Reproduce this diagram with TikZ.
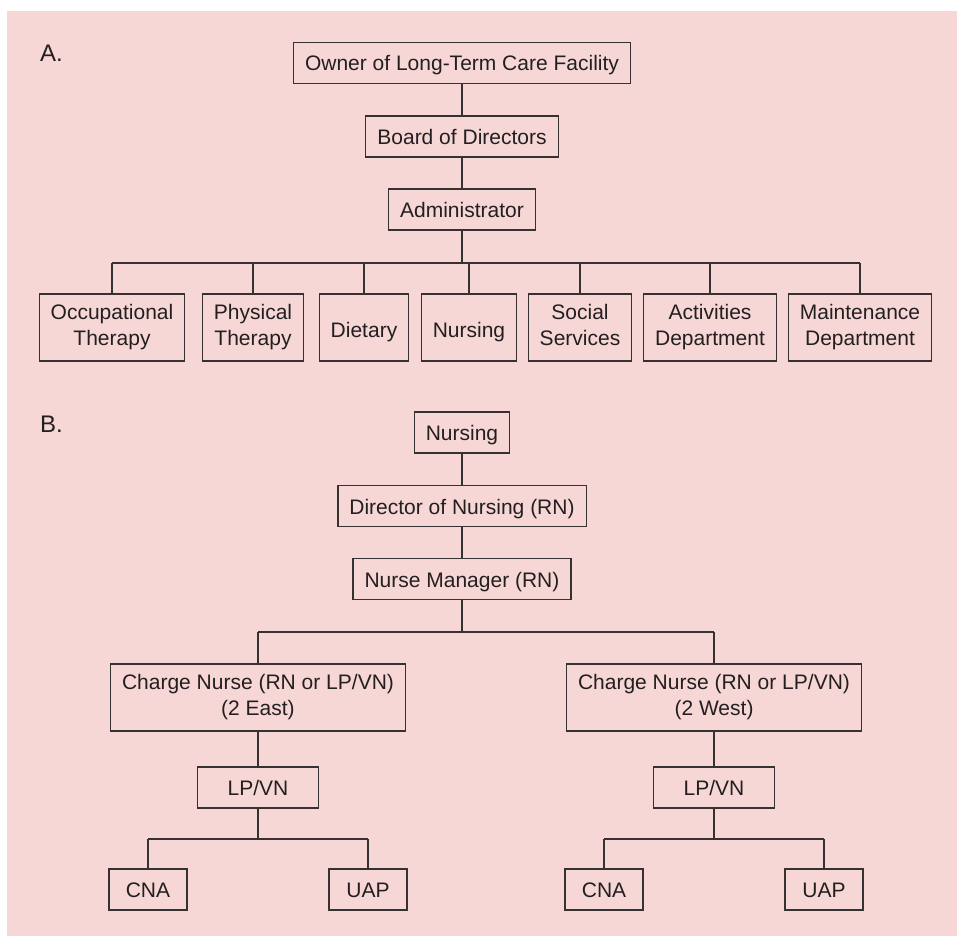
\documentclass[tikz,border=0pt]{standalone}
\usepackage{fontspec}
\setmainfont{Liberation Sans}
\usetikzlibrary{positioning}
\definecolor{chartpink}{RGB}{246,215,214}
\definecolor{chartgray}{RGB}{55,50,50}
\definecolor{charttext}{RGB}{35,31,32}
\newcommand{\boxstrut}{\rule[-4.5pt]{0pt}{29pt}}

\begin{document}
\begin{tikzpicture}[
	x=1pt, y=-1pt,
	texts/.style = {text=charttext, font=\fontsize{21}{26}\selectfont},
	parttexts/.style = {text=charttext, font=\fontsize{24}{28}\selectfont, anchor=base west, inner sep=0pt},
	treeline/.style = {draw=chartgray, line width=1.2pt},
	onebox/.style = {texts, treeline, rectangle, inner xsep=11.5pt, inner ysep=0pt, minimum height=41pt, text height=19pt, text depth=3pt},
	twobox/.style = {texts, treeline, rectangle, align=center, inner xsep=11.5pt, inner ysep=0pt, minimum height=67pt,
		execute at begin node=\boxstrut, execute at end node=\boxstrut},
	smallbox/.style = {onebox, minimum width=78pt},
	lpbox/.style = {onebox, minimum width=121pt}
]
	\useasboundingbox (0,0) rectangle (957,936);
	\fill[chartpink] (7,11) rectangle (957,936);

	% A. facility
	\node[parttexts] (parta) at (40,62) {A.};
	\node[onebox] (owner) at (462,63) {Owner of Long-Term Care Facility};
	\node[onebox] (board) at (462,136.5) {Board of Directors};
	\node[onebox] (admin) at (462,209.5) {Administrator};
	\node[twobox] (occ) at (112,327.5) {Occupational\\Therapy};
	\node[twobox] (phys) at (253,327.5) {Physical\\Therapy};
	\node[twobox] (diet) at (364,327.5) {Dietary};
	\node[twobox] (nurse) at (469,327.5) {Nursing};
	\node[twobox] (social) at (580,327.5) {Social\\Services};
	\node[twobox] (activ) at (710,327.5) {Activities\\Department};
	\node[twobox] (maint) at (860,327.5) {Maintenance\\Department};
	\coordinate (busa) at (462,263);

	\draw[treeline] (owner.south) -- (board.north);
	\draw[treeline] (board.south) -- (admin.north);
	\draw[treeline] (admin.south) -- (busa);
	\draw[treeline] (occ.north |- busa) -- (maint.north |- busa);
	\foreach \dept in {occ, phys, diet, nurse, social, activ, maint}
		\draw[treeline] (\dept.north) -- (\dept.north |- busa);

	% B. nursing
	\node[parttexts] (partb) at (40,432) {B.};
	\node[onebox] (nursing) at (462,432.5) {Nursing};
	\node[onebox] (director) at (462,506) {Director of Nursing (RN)};
	\node[onebox] (manager) at (462,579) {Nurse Manager (RN)};
	\node[twobox] (east) at (258,697.5) {Charge Nurse (RN or LP/VN)\\(2 East)};
	\node[twobox] (west) at (714,697.5) {Charge Nurse (RN or LP/VN)\\(2 West)};
	\node[lpbox] (lpeast) at (258,787.5) {LP/VN};
	\node[lpbox] (lpwest) at (714,787.5) {LP/VN};
	\node[smallbox] (cnaeast) at (148,889.5) {CNA};
	\node[smallbox] (uapeast) at (368,889.5) {UAP};
	\node[smallbox] (cnawest) at (604,889.5) {CNA};
	\node[smallbox] (uapwest) at (824,889.5) {UAP};
	\coordinate (busb) at (462,632);
	\coordinate (buseast) at (258,839);
	\coordinate (buswest) at (714,839);

	\draw[treeline] (nursing.south) -- (director.north);
	\draw[treeline] (director.south) -- (manager.north);
	\draw[treeline] (manager.south) -- (busb);
	\draw[treeline] (east.north |- busb) -- (west.north |- busb);
	\foreach \unit in {east, west}
		\draw[treeline] (\unit.north) -- (\unit.north |- busb);
	\draw[treeline] (east.south) -- (lpeast.north);
	\draw[treeline] (west.south) -- (lpwest.north);
	\draw[treeline] (lpeast.south) -- (buseast);
	\draw[treeline] (lpwest.south) -- (buswest);
	\draw[treeline] (cnaeast.north |- buseast) -- (uapeast.north |- buseast);
	\draw[treeline] (cnawest.north |- buswest) -- (uapwest.north |- buswest);
	\foreach \aide in {cnaeast, uapeast}
		\draw[treeline] (\aide.north) -- (\aide.north |- buseast);
	\foreach \aide in {cnawest, uapwest}
		\draw[treeline] (\aide.north) -- (\aide.north |- buswest);
\end{tikzpicture}
\end{document}
